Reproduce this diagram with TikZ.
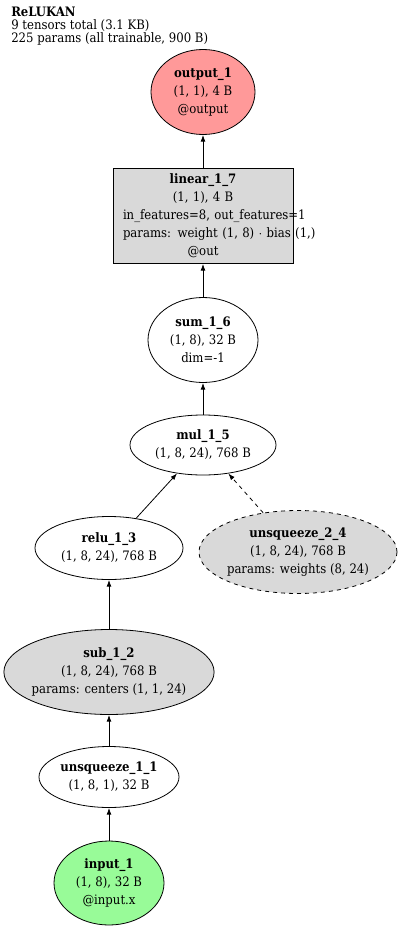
\documentclass[tikz,border=0pt]{standalone}
\usepackage{fontspec}
\setmainfont{DejaVu Serif Condensed}
\usetikzlibrary{shapes.geometric,arrows.meta}
\definecolor{outred}{HTML}{FF9999}
\definecolor{ingreen}{HTML}{98FB98}
\definecolor{opgray}{HTML}{D9D9D9}
\begin{document}
\begin{tikzpicture}[x=0.75pt, y=-0.75pt,
  every node/.style={align=center, inner sep=0pt, font=\fontsize{9.75}{13.5}\selectfont},
  op/.style={draw, ellipse, line width=0.6pt},
  arr/.style={-{Latex[length=5pt,width=3.6pt]}, line width=0.6pt}]
\useasboundingbox (0,0) rectangle (400,931);
\node[anchor=north west, align=left, font=\fontsize{9.75}{9.75}\selectfont] (title) at (11,7) {\textbf{ReLUKAN}\\9 tensors total (3.1 KB)\\225 params (all trainable, 900 B)};
\node[op, fill=outred, minimum width=78pt, minimum height=63.75pt] (output) at (203,92) {\textbf{output\_1}\\(1, 1), 4 B\\@output};
\node[draw, line width=0.6pt, fill=opgray, text width=120pt, inner xsep=7.5pt, minimum height=71.25pt] (linear) at (203,216) {\textbf{linear\_1\_7}\\(1, 1), 4 B\\\mbox{in\_features=8, out\_features=1}\\\mbox{params: weight (1, 8) $\cdot$ bias (1,)}\\@out};
\node[op, minimum width=82.5pt, minimum height=63.75pt] (sum) at (203,340) {\textbf{sum\_1\_6}\\(1, 8), 32 B\\dim=-1};
\node[op, minimum width=109.5pt, minimum height=45pt] (mul) at (203,445) {\textbf{mul\_1\_5}\\(1, 8, 24), 768 B};
\node[op, minimum width=111pt, minimum height=47.25pt] (relu) at (109,548) {\textbf{relu\_1\_3}\\(1, 8, 24), 768 B};
\node[op, dashed, fill=opgray, inner xsep=-1pt, minimum width=148.5pt, minimum height=62.25pt] (unsqb) at (298,552) {\textbf{unsqueeze\_2\_4}\\(1, 8, 24), 768 B\\params: weights (8, 24)};
\node[op, fill=opgray, inner xsep=-2.25pt, minimum width=157.5pt, minimum height=63.75pt] (sub) at (109,672) {\textbf{sub\_1\_2}\\(1, 8, 24), 768 B\\params: centers (1, 1, 24)};
\node[op, minimum width=105pt, minimum height=45.75pt] (unsqa) at (109,777) {\textbf{unsqueeze\_1\_1}\\(1, 8, 1), 32 B};
\node[op, fill=ingreen, minimum width=82.5pt, minimum height=63pt] (input) at (109,883) {\textbf{input\_1}\\(1, 8), 32 B\\@input.x};
\draw[arr] (input) -- (unsqa);
\draw[arr] (unsqa) -- (sub);
\draw[arr] (sub) -- (relu);
\draw[arr] (relu) -- (mul);
\draw[arr, dashed] (unsqb) -- (mul);
\draw[arr] (mul) -- (sum);
\draw[arr] (sum) -- (linear);
\draw[arr] (linear) -- (output);
\end{tikzpicture}
\end{document}
